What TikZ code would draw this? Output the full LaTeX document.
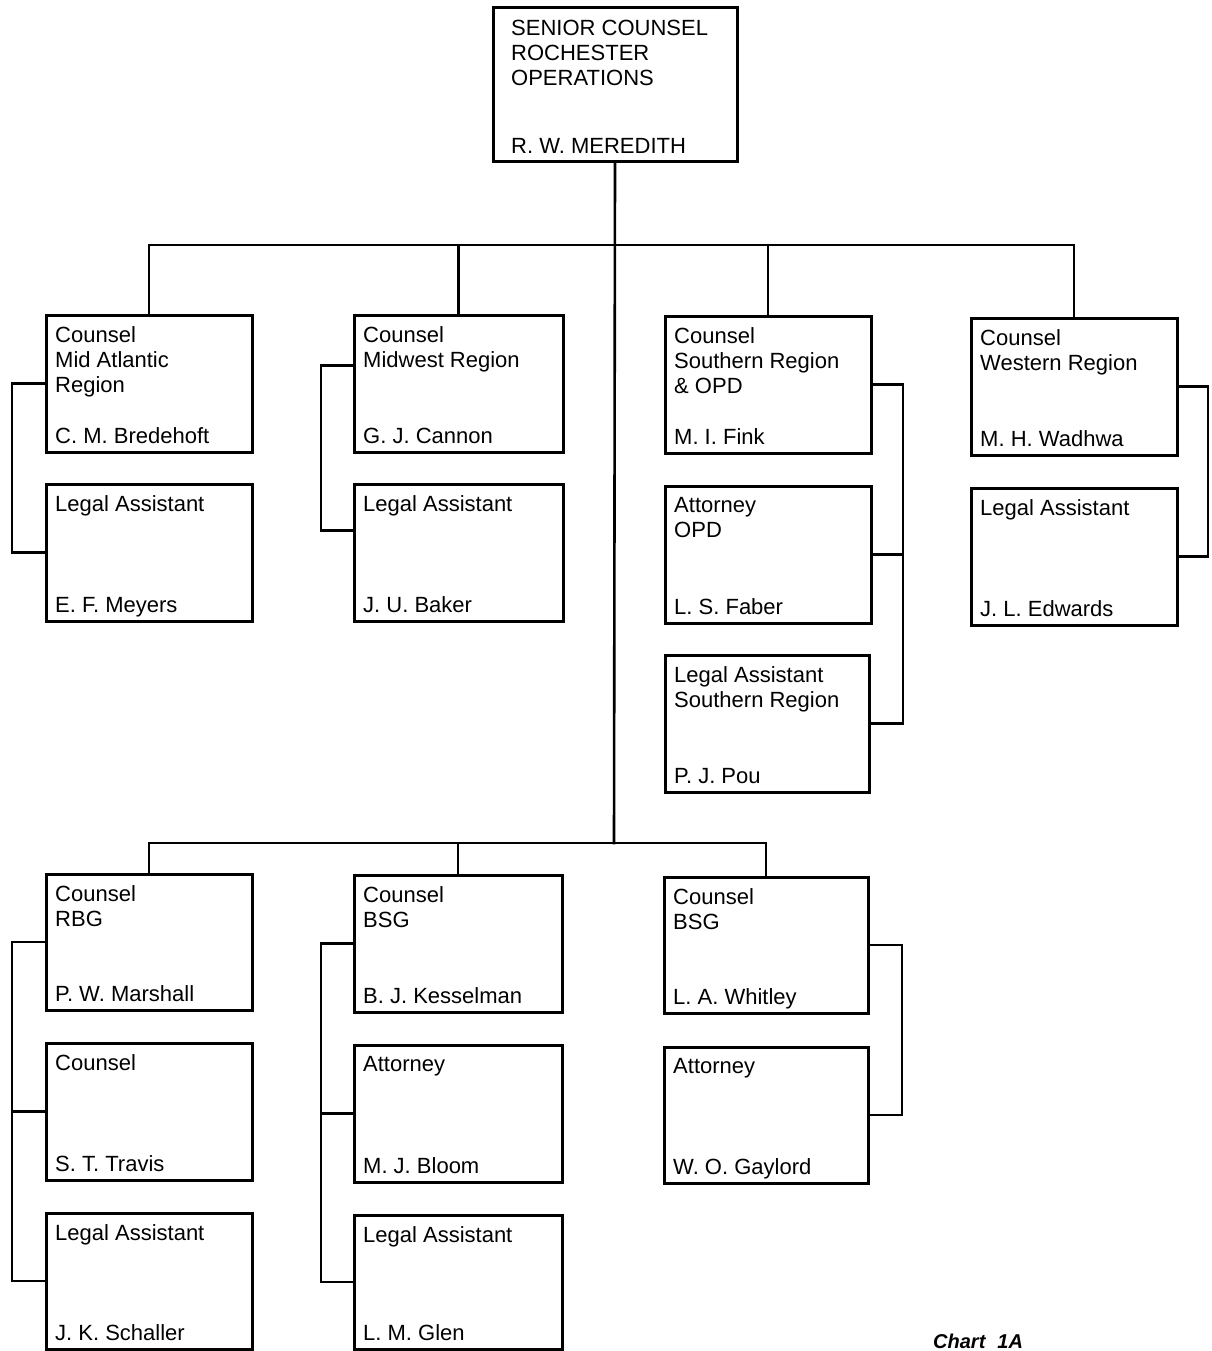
\documentclass[tikz,border=0pt]{standalone}
\usepackage{fontspec}
\setmainfont{Liberation Sans}
\usetikzlibrary{calc}

\tikzset{
  unitbox/.style={draw, line width=3pt, rectangle, inner sep=0pt, outer sep=0pt},
  titletext/.style={inner sep=0pt, align=left, font=\fontsize{22}{25}\selectfont},
  nametext/.style={inner sep=0pt, font=\fontsize{22}{25}\selectfont},
  link/.style={line width=2.6pt, line cap=rect},
}

% one box of the chart: name, left, top, width, height, title lines, person
\newcommand\orgunit[7]{%
  \node[unitbox, minimum width=#4pt, minimum height=#5pt, anchor=north west] (#1) at (#2,#3) {};
  \node[titletext, anchor=north west] (#1-title) at ([xshift=9pt,yshift=-11.5pt]#1.north west) {#6};
  \node[nametext, anchor=base west] (#1-name) at ([xshift=9pt,yshift=8.5pt]#1.south west) {#7};
}

\begin{document}
\begin{tikzpicture}[x=1pt, y=-1pt]
\useasboundingbox (0,0) rectangle (1211,1351);
\fill[white] (0,0) rectangle (1211,1351);

% head of the office
\node[unitbox, minimum width=244pt, minimum height=154pt, anchor=north west] (head) at (493,8) {};
\node[titletext, anchor=north west] (head-title) at ([xshift=18pt,yshift=-12pt]head.north west)
  {SENIOR COUNSEL\\ROCHESTER\\OPERATIONS};
\node[nametext, anchor=base west] (head-name) at ([xshift=18pt,yshift=8.5pt]head.south west)
  {R. W. MEREDITH};

% regional counsel
\orgunit{ma}{46}{315}{206}{137}{Counsel\\Mid Atlantic\\Region}{C. M. Bredehoft}
\orgunit{mw}{354}{315}{209}{137}{Counsel\\Midwest Region}{G. J. Cannon}
\orgunit{so}{665}{316}{206}{137}{Counsel\\Southern Region\\\& OPD}{M. I. Fink}
\orgunit{wr}{971}{318}{206}{137}{Counsel\\Western Region}{M. H. Wadhwa}
\orgunit{meyers}{46}{484}{206}{137}{Legal Assistant}{E. F. Meyers}
\orgunit{baker}{354}{484}{209}{137}{Legal Assistant}{J. U. Baker}
\orgunit{faber}{665}{486}{206}{137}{Attorney\\OPD}{L. S. Faber}
\orgunit{edwards}{971}{488}{206}{137}{Legal Assistant}{J. L. Edwards}
\orgunit{pou}{665}{655}{204}{137}{Legal Assistant\\Southern Region}{P. J. Pou}

% business group counsel
\orgunit{marshall}{46}{874}{206}{136}{Counsel\\RBG}{P. W. Marshall}
\orgunit{kessel}{354}{875}{208}{137}{Counsel\\BSG}{B. J. Kesselman}
\orgunit{whitley}{664}{877}{204}{136}{Counsel\\BSG}{L. A. Whitley}
\orgunit{travis}{46}{1043}{206}{137}{Counsel}{S. T. Travis}
\orgunit{bloom}{354}{1045}{208}{137}{Attorney}{M. J. Bloom}
\orgunit{gaylord}{664}{1047}{204}{136}{Attorney}{W. O. Gaylord}
\orgunit{schaller}{46}{1213}{206}{136}{Legal Assistant}{J. K. Schaller}
\orgunit{glen}{354}{1215}{208}{134}{Legal Assistant}{L. M. Glen}

% bus coordinates
\coordinate (bus1) at (614,245);
\coordinate (bus2) at (614,843);

% trunk and buses
\draw[link] (head.south) -- (bus2);
\draw[link] (ma.north) |- (bus1) -| (wr.north);
\draw[link] (mw.north) -- (mw.north |- bus1);
\draw[link] (so.north) -- (so.north |- bus1);
\draw[link] (marshall.north) |- (bus2) -| (whitley.north);
\draw[link] (kessel.north) -- (kessel.north |- bus2);

% side brackets to staff
\draw[link] (ma.west) -- ++(-34,0) |- (meyers.west);
\draw[link] ([yshift=18pt]mw.west) -- ++(-33,0) |- ([yshift=22pt]baker.west);
\draw[link] (so.east) -- ++(32,0) coordinate (sobr) |- (pou.east);
\draw[link] (faber.east) -- (faber.east -| sobr);
\draw[link] (wr.east) -- ++(31,0) |- (edwards.east);
\draw[link] (marshall.west) -- ++(-34,0) coordinate (rbgbr) |- (schaller.west);
\draw[link] (travis.west) -- (travis.west -| rbgbr);
\draw[link] (kessel.west) -- ++(-33,0) coordinate (bsgbr) |- (glen.west);
\draw[link] (bloom.west) -- (bloom.west -| bsgbr);
\draw[link] (whitley.east) -- ++(34,0) |- (gaylord.east);

% chart caption
\node[inner sep=0pt, anchor=base west, font=\fontsize{20}{24}\selectfont\bfseries\itshape] (caption) at (933,1348)
  {Chart\hspace{12pt}1A};
\end{tikzpicture}
\end{document}
